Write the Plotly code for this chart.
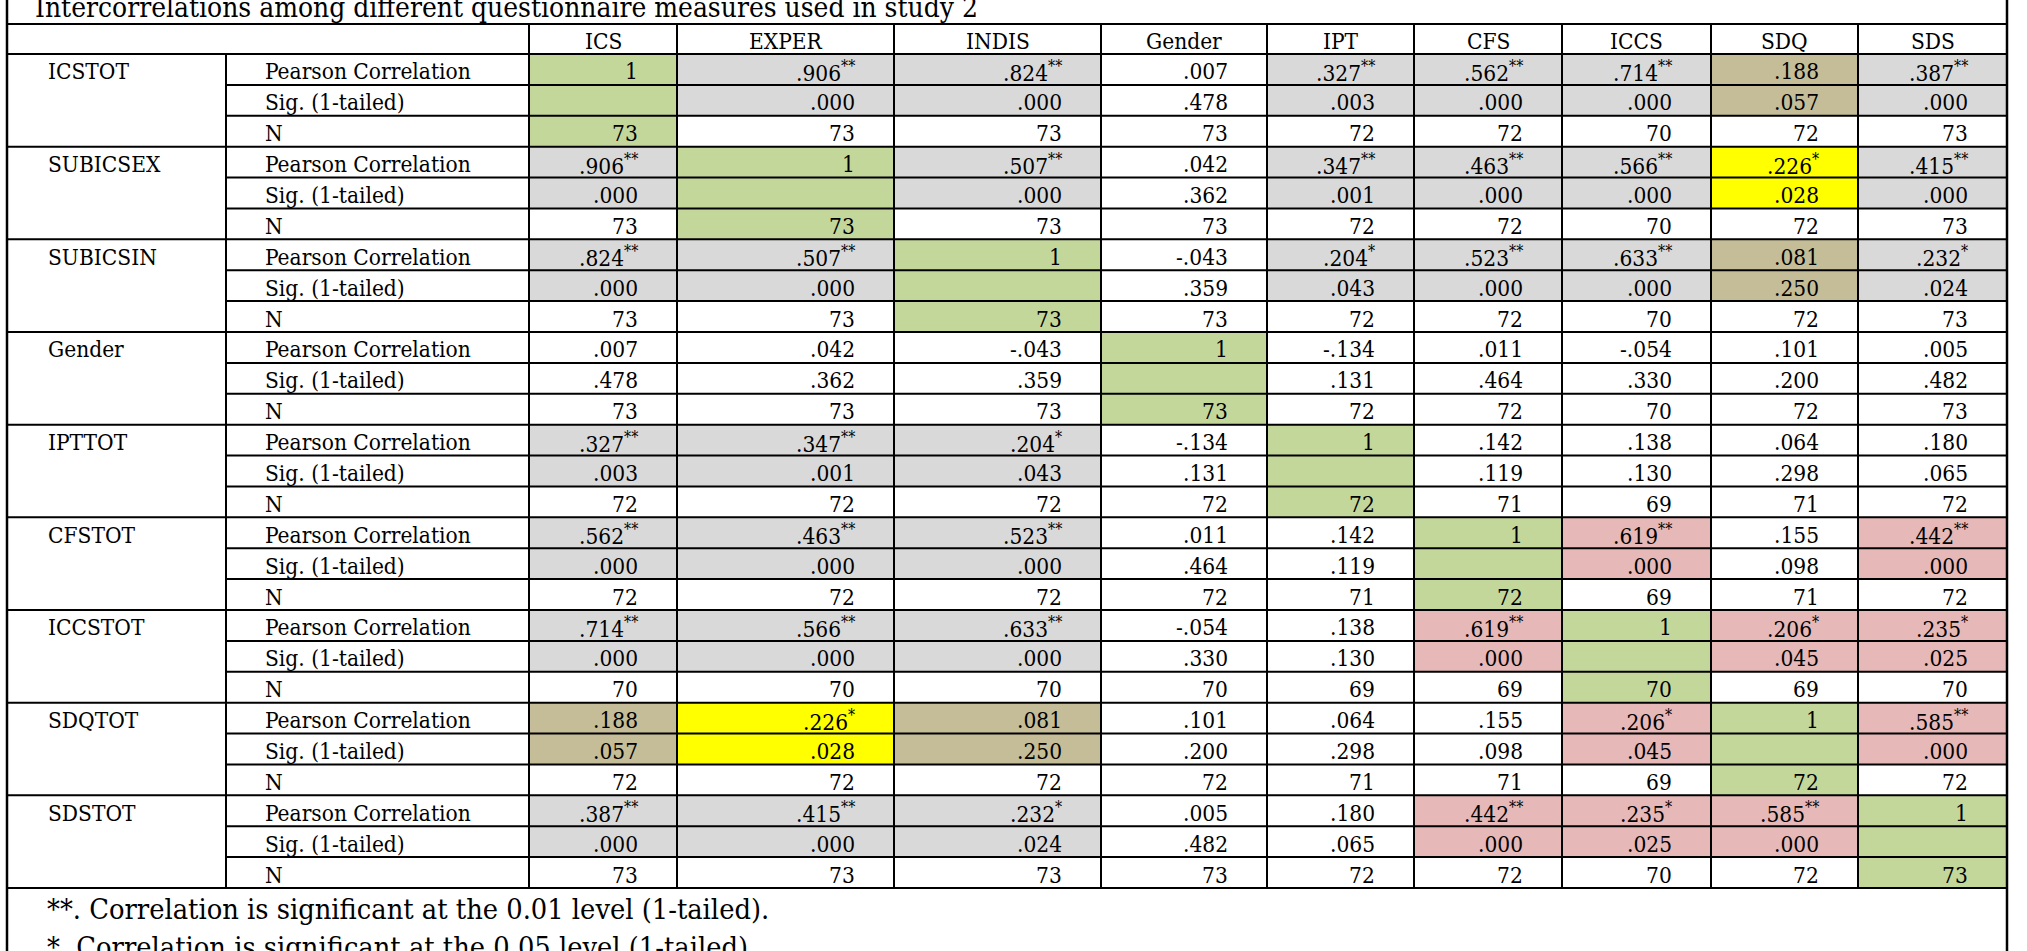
import plotly.graph_objects as go

# ---------------- data ----------------
TITLE = "Intercorrelations among different questionnaire measures used in study 2"
COLUMNS = ["ICS", "EXPER", "INDIS", "Gender", "IPT", "CFS", "ICCS", "SDQ", "SDS"]
ROW_VARS = ["ICSTOT", "SUBICSEX", "SUBICSIN", "Gender", "IPTTOT", "CFSTOT", "ICCSTOT", "SDQTOT", "SDSTOT"]
STATS = ["Pearson Correlation", "Sig. (1-tailed)", "N"]

PEARSON = [
    ["1", ".906**", ".824**", ".007", ".327**", ".562**", ".714**", ".188", ".387**"],
    [".906**", "1", ".507**", ".042", ".347**", ".463**", ".566**", ".226*", ".415**"],
    [".824**", ".507**", "1", "-.043", ".204*", ".523**", ".633**", ".081", ".232*"],
    [".007", ".042", "-.043", "1", "-.134", ".011", "-.054", ".101", ".005"],
    [".327**", ".347**", ".204*", "-.134", "1", ".142", ".138", ".064", ".180"],
    [".562**", ".463**", ".523**", ".011", ".142", "1", ".619**", ".155", ".442**"],
    [".714**", ".566**", ".633**", "-.054", ".138", ".619**", "1", ".206*", ".235*"],
    [".188", ".226*", ".081", ".101", ".064", ".155", ".206*", "1", ".585**"],
    [".387**", ".415**", ".232*", ".005", ".180", ".442**", ".235*", ".585**", "1"],
]
SIG = [
    ["", ".000", ".000", ".478", ".003", ".000", ".000", ".057", ".000"],
    [".000", "", ".000", ".362", ".001", ".000", ".000", ".028", ".000"],
    [".000", ".000", "", ".359", ".043", ".000", ".000", ".250", ".024"],
    [".478", ".362", ".359", "", ".131", ".464", ".330", ".200", ".482"],
    [".003", ".001", ".043", ".131", "", ".119", ".130", ".298", ".065"],
    [".000", ".000", ".000", ".464", ".119", "", ".000", ".098", ".000"],
    [".000", ".000", ".000", ".330", ".130", ".000", "", ".045", ".025"],
    [".057", ".028", ".250", ".200", ".298", ".098", ".045", "", ".000"],
    [".000", ".000", ".024", ".482", ".065", ".000", ".025", ".000", ""],
]
N_VALUES = [
    [73, 73, 73, 73, 72, 72, 70, 72, 73],
    [73, 73, 73, 73, 72, 72, 70, 72, 73],
    [73, 73, 73, 73, 72, 72, 70, 72, 73],
    [73, 73, 73, 73, 72, 72, 70, 72, 73],
    [72, 72, 72, 72, 72, 71, 69, 71, 72],
    [72, 72, 72, 72, 71, 72, 69, 71, 72],
    [70, 70, 70, 70, 69, 69, 70, 69, 70],
    [72, 72, 72, 72, 71, 71, 69, 72, 72],
    [73, 73, 73, 73, 72, 72, 70, 72, 73],
]
# highlight category of each cell: d=diagonal, g=grey, t=tan, y=yellow, p=pink, ""=none
HIGHLIGHT = [
    ["d", "g", "g", "", "g", "g", "g", "t", "g"],
    ["g", "d", "g", "", "g", "g", "g", "y", "g"],
    ["g", "g", "d", "", "g", "g", "g", "t", "g"],
    ["", "", "", "d", "", "", "", "", ""],
    ["g", "g", "g", "", "d", "", "", "", ""],
    ["g", "g", "g", "", "", "d", "p", "", "p"],
    ["g", "g", "g", "", "", "p", "d", "p", "p"],
    ["t", "y", "t", "", "", "", "p", "d", "p"],
    ["g", "g", "g", "", "", "p", "p", "p", "d"],
]
FOOTNOTES = [
    "**. Correlation is significant at the 0.01 level (1-tailed).",
    "*. Correlation is significant at the 0.05 level (1-tailed).",
]

# ---------------- style / geometry ----------------
W, H = 2027, 951
COL_EDGES = [7, 226, 529, 677, 894, 1101, 1267, 1414, 1562, 1711, 1858, 2007]
VALUE_PAD = 37
TITLE_BOTTOM = 24
HEADER_BOTTOM = 54
BODY_BOTTOM = 888
FILL = {"d": "#C4D79B", "g": "#D9D9D9", "t": "#C4BD97", "y": "#FFFF00", "p": "#E6B8B7"}
FONT = "DejaVu Serif Condensed, DejaVu Serif, serif"
CELL_SIZE = 22.5
TITLE_SIZE = 27.9
NOTE_SIZE = 28.7
LINE_W = 2
TEXT_DY = 2

n_rows = len(ROW_VARS) * len(STATS)
row_h = (BODY_BOTTOM - HEADER_BOTTOM) / n_rows


def row_top(k):
    return HEADER_BOTTOM + k * row_h


def fmt(s):
    s = str(s)
    stars = s.count("*")
    if stars:
        return s.replace("*", "") + "<sup>" + "*" * stars + "</sup>"
    return s


shapes = []
annotations = []

# cell fills
for i in range(len(ROW_VARS)):
    for j in range(len(COLUMNS)):
        code = HIGHLIGHT[i][j]
        if not code:
            continue
        nrows = 3 if code == "d" else 2
        shapes.append(dict(type="rect", xref="x", yref="y", layer="below",
                           x0=COL_EDGES[j + 2], x1=COL_EDGES[j + 3],
                           y0=row_top(i * 3), y1=row_top(i * 3 + nrows),
                           fillcolor=FILL[code], line=dict(width=0)))


def hline(y, x0, x1, w=LINE_W):
    shapes.append(dict(type="line", xref="x", yref="y", x0=x0, x1=x1, y0=y, y1=y,
                       line=dict(color="black", width=w)))


def vline(x, y0, y1, w=LINE_W):
    shapes.append(dict(type="line", xref="x", yref="y", x0=x, x1=x, y0=y0, y1=y1,
                       line=dict(color="black", width=w)))


hline(TITLE_BOTTOM, COL_EDGES[0], COL_EDGES[-1])
hline(HEADER_BOTTOM, COL_EDGES[0], COL_EDGES[-1])
for k in range(1, n_rows + 1):
    if k % 3 == 0:
        hline(row_top(k), COL_EDGES[0], COL_EDGES[-1])
    else:
        hline(row_top(k), COL_EDGES[1], COL_EDGES[-1])
vline(COL_EDGES[0], -5, H + 5, 2.5)
vline(COL_EDGES[-1], -5, H + 5, 2.5)
vline(COL_EDGES[1], HEADER_BOTTOM, BODY_BOTTOM)
for x in COL_EDGES[2:-1]:
    vline(x, TITLE_BOTTOM, BODY_BOTTOM)

# title
annotations.append(dict(x=33, y=7, text=TITLE, xanchor="left", yanchor="middle",
                        showarrow=False, font=dict(family=FONT, size=TITLE_SIZE, color="black")))

# headers
for j, c in enumerate(COLUMNS):
    annotations.append(dict(x=(COL_EDGES[j + 2] + COL_EDGES[j + 3]) / 2,
                            y=(TITLE_BOTTOM + HEADER_BOTTOM) / 2 + TEXT_DY, text=c,
                            xanchor="center", yanchor="middle", showarrow=False,
                            font=dict(family=FONT, size=CELL_SIZE, color="black")))

# body
for i, var in enumerate(ROW_VARS):
    annotations.append(dict(x=COL_EDGES[0] + 39, y=row_top(i * 3) + row_h / 2 + TEXT_DY,
                            text=var, xanchor="left", yanchor="middle", showarrow=False,
                            font=dict(family=FONT, size=CELL_SIZE, color="black")))
    rows = [PEARSON[i], SIG[i], N_VALUES[i]]
    for s, stat in enumerate(STATS):
        yc = row_top(i * 3 + s) + row_h / 2 + TEXT_DY
        annotations.append(dict(x=COL_EDGES[1] + 37, y=yc, text=stat, xanchor="left",
                                yanchor="middle", showarrow=False,
                                font=dict(family=FONT, size=CELL_SIZE, color="black")))
        for j in range(len(COLUMNS)):
            v = rows[s][j]
            if v == "":
                continue
            annotations.append(dict(x=COL_EDGES[j + 3] - VALUE_PAD, y=yc, text=fmt(v),
                                    xanchor="right", yanchor="middle", showarrow=False,
                                    font=dict(family=FONT, size=CELL_SIZE, color="black")))

# footnotes
for f, note in enumerate(FOOTNOTES):
    annotations.append(dict(x=45, y=908.5 + f * 38, text=note, xanchor="left", yanchor="middle",
                            showarrow=False,
                            font=dict(family=FONT, size=NOTE_SIZE, color="black")))

fig = go.Figure()
fig.add_trace(go.Scatter(x=[0, W], y=[0, H], mode="markers", marker=dict(opacity=0),
                         hoverinfo="skip", showlegend=False))
fig.update_layout(
    width=W, height=H, margin=dict(l=0, r=0, t=0, b=0),
    paper_bgcolor="white", plot_bgcolor="white",
    xaxis=dict(range=[0, W], visible=False, fixedrange=True),
    yaxis=dict(range=[H, 0], visible=False, fixedrange=True),
    shapes=shapes, annotations=annotations, showlegend=False,
)
fig.write_html("out.html", config={"displayModeBar": False},
               post_script="document.body.style.margin='0';document.body.style.overflow='hidden';")
